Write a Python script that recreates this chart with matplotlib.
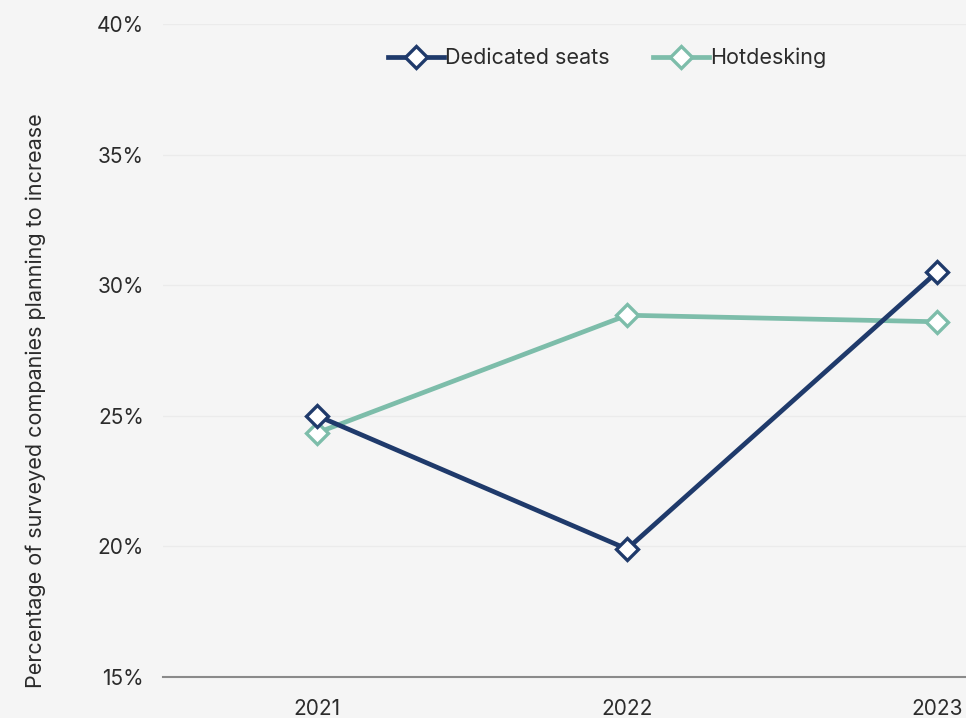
import matplotlib
matplotlib.use('Agg')
from matplotlib import pyplot as plt
from matplotlib.ticker import FuncFormatter

# survey results, % of companies planning to increase each seating type
years = ['2021', '2022', '2023']
dedicated = [25.0, 19.9, 30.5]
hotdesking = [24.35, 28.85, 28.6]

yticks = [15, 20, 25, 30, 35, 40]

navy = '#1f3a6b'
teal = '#7dbdaa'
bg = '#f5f5f5'
text_col = '#2b2b2b'

plt.rcParams['font.family'] = ['Inter', 'DejaVu Sans']

fig = plt.figure(figsize=(9.66, 7.18), dpi=100, facecolor=bg)
ax = fig.add_axes([0.169, 0.0571, 0.831, 0.9095], facecolor=bg)

x = list(range(len(years)))
ax.plot(x, dedicated, color=navy, lw=3.4, marker='D', ms=11,
        mfc='white', mec=navy, mew=2.4, label='Dedicated seats', zorder=3)
ax.plot(x, hotdesking, color=teal, lw=3.4, marker='D', ms=11,
        mfc='white', mec=teal, mew=2.4, label='Hotdesking', zorder=2)

ax.set_xlim(-0.497, 2.094)
ax.set_ylim(15, 40)
ax.set_xticks(x)
ax.set_xticklabels(years)
ax.set_yticks(yticks)
ax.yaxis.set_major_formatter(FuncFormatter(lambda v, p: '{:.0f}%'.format(v)))
ax.tick_params(length=0, labelsize=15, colors=text_col)
ax.tick_params(axis='y', pad=14)
ax.tick_params(axis='x', pad=16)

ax.grid(axis='y', color='#ebebeb', lw=1)
ax.set_axisbelow(True)
for side in ['top', 'right', 'left']:
    ax.spines[side].set_visible(False)
ax.spines['bottom'].set_color('#8a8a8a')
ax.spines['bottom'].set_linewidth(1.5)

ax.set_ylabel('Percentage of surveyed companies planning to increase',
              fontsize=15.5, color=text_col)
ax.yaxis.set_label_coords(-0.146, 0.4227)

leg = ax.legend(loc='center', bbox_to_anchor=(0.553, 0.948), ncol=2,
                frameon=False, fontsize=15.5, handlelength=2.6,
                handletextpad=0.05, columnspacing=2.0, labelcolor=text_col)

fig.savefig('out.png', dpi=100, facecolor=bg)
